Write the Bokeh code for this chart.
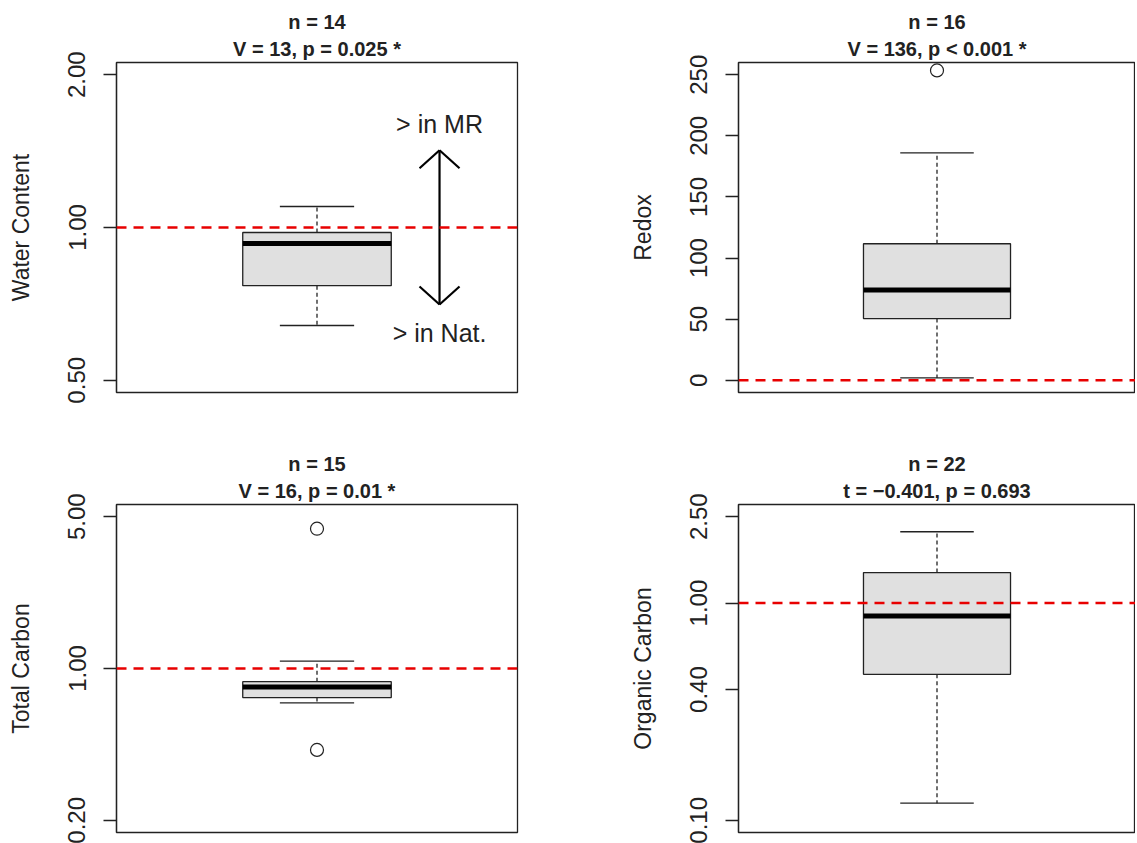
import math
from bokeh.plotting import figure
from bokeh.layouts import column, row
from bokeh.models import Range1d, Span, Title
from bokeh.core.properties import value
from bokeh.embed import file_html
from bokeh.resources import INLINE

FONT = "Liberation Sans"
INK = "#222222"
RED = "#E80000"
BOXFILL = "#E0E0E0"

# ---------------- data ----------------
# five-number summaries: whisker low, Q1, median, Q3, whisker high
wc_stats = [0.641, 0.768, 0.930, 0.9775, 1.100]
wc_outliers = []
redox_stats = [1.9, 50.5, 73.8, 111.7, 186.0]
redox_outliers = [253.5]
tc_stats = [0.695, 0.735, 0.823, 0.870, 1.082]
tc_outliers = [4.40, 0.422]
oc_stats = [0.120, 0.470, 0.872, 1.382, 2.13]
oc_outliers = []

n_titles = ["n = 14", "n = 16", "n = 15", "n = 22"]
test_titles = ["V = 13, p = 0.025 *", "V = 136, p < 0.001 *",
               "V = 16, p = 0.01 *", "t = \u22120.401, p = 0.693"]
y_labels = ["Water Content", "Redox", "Total Carbon", "Organic Carbon"]

wc_ticks = [0.5, 1.0, 2.0]
wc_tick_labels = ["0.50", "1.00", "2.00"]
redox_ticks = [0, 50, 100, 150, 200, 250]
redox_tick_labels = ["0", "50", "100", "150", "200", "250"]
tc_ticks = [0.2, 1.0, 5.0]
tc_tick_labels = ["0.20", "1.00", "5.00"]
oc_ticks = [0.1, 0.4, 1.0, 2.5]
oc_tick_labels = ["0.10", "0.40", "1.00", "2.50"]

wc_ylim = [0.5, 2.0]
redox_ylim = [0, 250]
tc_ylim = [0.2, 5.0]
oc_ylim = [0.1, 2.5]

ref_lines = [1.0, 0.0, 1.0, 1.0]

# annotation arrow in the first panel
arrow_x = 1.33
arrow_lo = 0.705
arrow_hi = 1.42
arrow_text = ["> in MR", "> in Nat."]
arrow_text_y = [1.60, 0.62]

XLIM = (0.46, 1.54)
BOXW = 0.4


def ext_range(lim, log):
    if log:
        a, b = math.log10(lim[0]), math.log10(lim[1])
        d = (b - a) * 0.04
        return Range1d(10 ** (a - d), 10 ** (b + d))
    d = (lim[1] - lim[0]) * 0.04
    return Range1d(lim[0] - d, lim[1] + d)


def panel(stats, outliers, ntitle, ttitle, ylabel, ticks, tlabels, ylim, ref,
          log, frame_w, frame_h, bl, br, bt, bb):
    p = figure(
        output_backend="svg", toolbar_location=None,
        x_axis_type=None, y_axis_type="log" if log else "linear",
        x_range=Range1d(*XLIM), y_range=ext_range(ylim, log),
        frame_width=frame_w, frame_height=frame_h,
        min_border_left=bl, min_border_right=br,
        min_border_top=bt, min_border_bottom=bb,
        background_fill_color="white", border_fill_color="white",
    )
    p.xgrid.visible = False
    p.ygrid.visible = False
    p.outline_line_color = INK
    p.outline_line_width = 1.3

    # titles: the default title ends up outermost, the added one nearest the frame
    p.title.text = ntitle
    p.title.align = "center"
    p.title.text_font = FONT
    p.title.text_font_size = "20px"
    p.title.text_font_style = "bold"
    p.title.text_color = INK
    p.title.standoff = 2
    p.add_layout(Title(text=ttitle, align="center", text_font=FONT,
                       text_font_size="20px", text_font_style="bold",
                       text_color=INK, standoff=5), "above")

    ax = p.yaxis[0]
    ax.ticker = ticks
    ax.major_label_overrides = {t: l for t, l in zip(ticks, tlabels)}
    ax.major_label_orientation = "vertical"
    ax.major_label_text_font = FONT
    ax.major_label_text_font_size = "24px"
    ax.major_label_text_color = INK
    ax.major_label_standoff = 18
    ax.major_tick_out = 13
    ax.major_tick_in = 0
    ax.major_tick_line_color = INK
    ax.major_tick_line_width = 1.3
    ax.minor_tick_line_color = None
    ax.axis_line_color = INK
    ax.axis_line_width = 1.3
    ax.axis_label = ylabel
    ax.axis_label_text_font = FONT
    ax.axis_label_text_font_size = "23px"
    ax.axis_label_text_font_style = "normal"
    ax.axis_label_text_color = INK
    ax.axis_label_standoff = 32

    wlo, q1, med, q3, whi = stats
    # whiskers
    p.segment(x0=[1, 1], x1=[1, 1], y0=[q3, q1], y1=[whi, wlo],
              line_color=INK, line_width=1.3, line_dash="4 3")
    p.segment(x0=[1 - BOXW / 4] * 2, x1=[1 + BOXW / 4] * 2, y0=[whi, wlo],
              y1=[whi, wlo], line_color=INK, line_width=1.3)
    # box
    p.quad(left=[1 - BOXW / 2], right=[1 + BOXW / 2], bottom=[q1], top=[q3],
           fill_color=BOXFILL, line_color=INK, line_width=1.3)
    # median
    p.segment(x0=[1 - BOXW / 2], x1=[1 + BOXW / 2], y0=[med], y1=[med],
              line_color="black", line_width=5)
    if outliers:
        p.scatter(x=[1] * len(outliers), y=outliers, marker="circle", size=13,
                  fill_color=None, line_color=INK, line_width=1.2)
    p.add_layout(Span(location=ref, dimension="width", line_color=RED,
                      line_dash="10 7", line_width=2.5))
    return p


FW_L, FW_R = 401, 397
TOP_H, BOT_H = 330, 328

p1 = panel(wc_stats, wc_outliers, n_titles[0], test_titles[0], y_labels[0],
           wc_ticks, wc_tick_labels, wc_ylim, ref_lines[0], True,
           FW_L, TOP_H, 116, 20, 62, 57)
p2 = panel(redox_stats, redox_outliers, n_titles[1], test_titles[1], y_labels[1],
           redox_ticks, redox_tick_labels, redox_ylim, ref_lines[1], False,
           FW_R, TOP_H, 201, 0, 62, 57)
p3 = panel(tc_stats, tc_outliers, n_titles[2], test_titles[2], y_labels[2],
           tc_ticks, tc_tick_labels, tc_ylim, ref_lines[2], True,
           FW_L, BOT_H, 116, 20, 54, 12)
p4 = panel(oc_stats, oc_outliers, n_titles[3], test_titles[3], y_labels[3],
           oc_ticks, oc_tick_labels, oc_ylim, ref_lines[3], True,
           FW_R, BOT_H, 201, 0, 54, 12)

# double-headed arrow with open heads in panel 1
yr = p1.y_range
dec_per_px = (math.log10(yr.end) - math.log10(yr.start)) / TOP_H
ux_per_px = (XLIM[1] - XLIM[0]) / FW_L
hw = 20 * ux_per_px
hf = 10 ** (18 * dec_per_px)
p1.segment(x0=[arrow_x], x1=[arrow_x], y0=[arrow_lo], y1=[arrow_hi],
           line_color="black", line_width=2.2)
p1.segment(x0=[arrow_x] * 4,
           x1=[arrow_x - hw, arrow_x + hw, arrow_x - hw, arrow_x + hw],
           y0=[arrow_hi, arrow_hi, arrow_lo, arrow_lo],
           y1=[arrow_hi / hf, arrow_hi / hf, arrow_lo * hf, arrow_lo * hf],
           line_color="black", line_width=2.2)
p1.text(x=[arrow_x] * 2, y=arrow_text_y, text=arrow_text,
        text_align="center", text_baseline="middle",
        text_font=value(FONT), text_font_size="25px", text_color=INK)

layout = column(row(p1, p2), row(p3, p4))
open("out.html", "w").write(file_html(layout, INLINE))
